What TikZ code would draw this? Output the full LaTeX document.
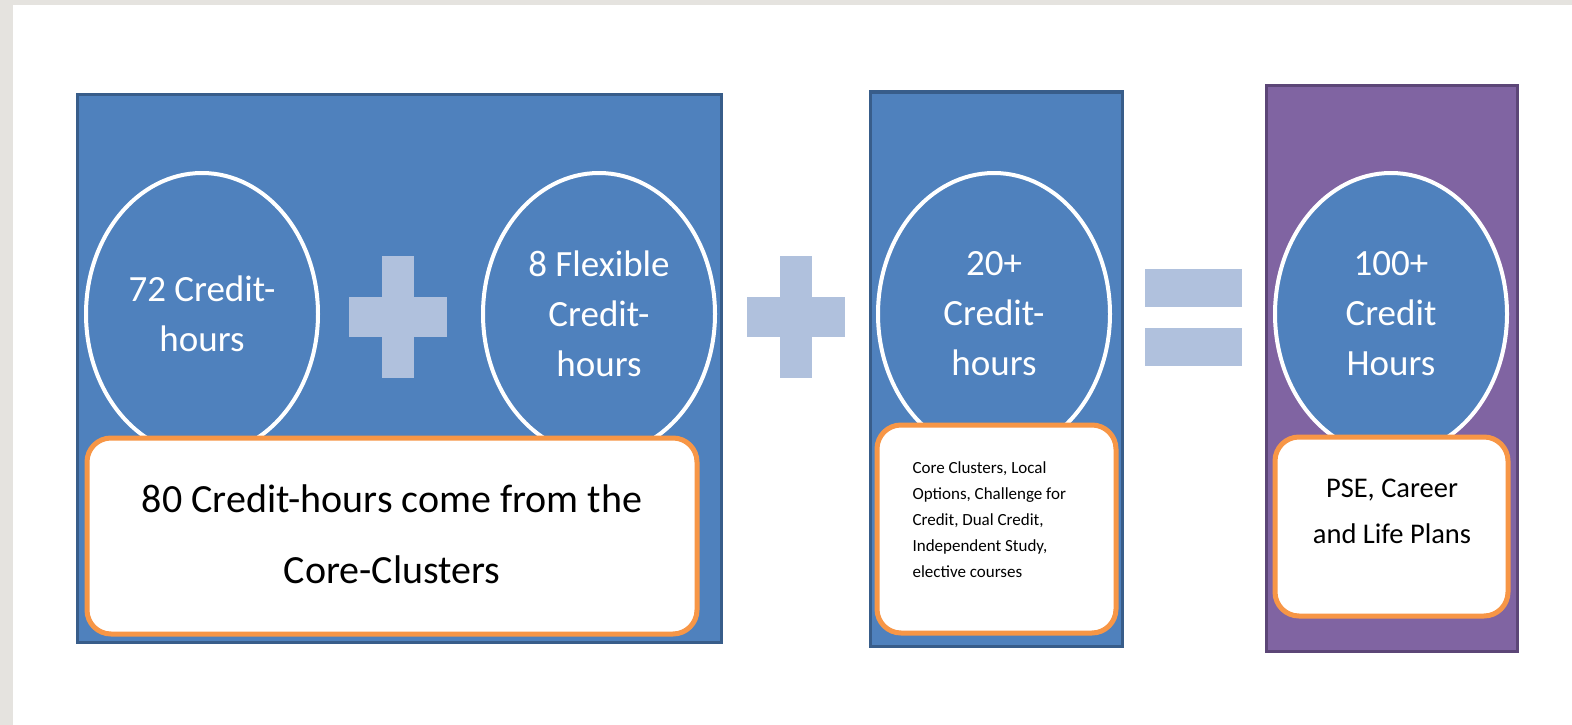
\documentclass[tikz,border=0pt]{standalone}
\usepackage{fontspec}
\setmainfont{Carlito}
\usepackage{xcolor}
\definecolor{ppt-blue}{RGB}{79,129,189}
\definecolor{ppt-blue-dark}{RGB}{56,93,138}
\definecolor{ppt-purple}{RGB}{128,100,162}
\definecolor{ppt-purple-dark}{RGB}{92,70,119}
\definecolor{ppt-orange}{RGB}{247,150,70}
\definecolor{ppt-sign}{RGB}{176,193,221}
\definecolor{slide-grey}{RGB}{229,227,223}
\usetikzlibrary{positioning,shapes.geometric}

\begin{document}
\begin{tikzpicture}[x=1pt,y=-1pt,
    panel/.style={line width=3pt},
    disc/.style={ellipse, draw=white, fill=ppt-blue, line width=4pt, minimum width=232pt, minimum height=282pt,
        inner sep=0pt, align=center, text=white, font=\fontsize{37}{50}\selectfont},
    note/.style={rectangle, rounded corners=24pt, draw=ppt-orange, fill=white, line width=5pt, inner sep=0pt},
    sign/.style={fill=ppt-sign}]
    \useasboundingbox (0,0) rectangle (1572,725);
    \fill[slide-grey] (0,0) rectangle (1572,725);
    \fill[white] (13,5) rectangle (1572,725);
    % panels
    \filldraw[panel, fill=ppt-blue, draw=ppt-blue-dark] (77,94) rectangle (721,642);
    \filldraw[panel, fill=ppt-blue, draw=ppt-blue-dark] (870,92) rectangle (1122,646);
    \filldraw[panel, fill=ppt-purple, draw=ppt-purple-dark] (1266,86) rectangle (1517,651);
    % credit discs
    \node[disc] (c72) at (202,314) {72 Credit-\\hours};
    \node[disc] (c8) at (599,314) {8 Flexible\\Credit-\\hours};
    \node[disc] (c20) at (994,314) {20+\\Credit-\\hours};
    \node[disc] (c100) at (1391,314) {100+\\Credit\\Hours};
    % plus and equal signs
    \foreach \cx in {398,796} {
        \fill[sign] (\cx-49,297) rectangle (\cx+49,337);
        \fill[sign] (\cx-16,256) rectangle (\cx+16,378);
    }
    \fill[sign] (1145,269) rectangle (1242,307);
    \fill[sign] (1145,328) rectangle (1242,366);
    % notes (text placed by the baseline of its last line)
    \node[note, minimum width=610pt, minimum height=196pt] (core) at (392,536) {};
    \node[anchor=base, align=center, font=\fontsize{40}{71}\selectfont] (coretext) at (392,583)
        {80 Credit-hours come from the\\Core-Clusters};
    \node[note, minimum width=239pt, minimum height=208pt] (opts) at (996.5,529) {};
    \node[anchor=base west, align=left, font=\fontsize{17}{26}\selectfont] (optstext) at (909,577)
        {Core Clusters, Local\\Options, Challenge for\\Credit, Dual Credit,\\Independent Study,\\elective courses};
    \node[note, minimum width=233pt, minimum height=179pt] (plans) at (1391.5,526.5) {};
    \node[anchor=base, align=center, font=\fontsize{28.5}{46}\selectfont] (planstext) at (1392,543)
        {PSE, Career\\and Life Plans};
\end{tikzpicture}
\end{document}
